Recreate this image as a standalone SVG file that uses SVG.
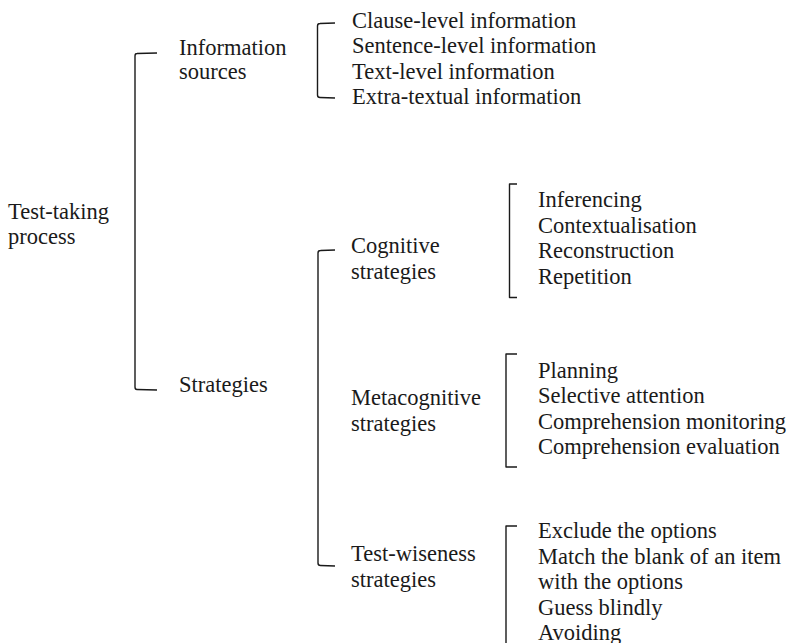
<svg xmlns="http://www.w3.org/2000/svg" width="793" height="643" viewBox="0 0 793 643">
<style>
text{font-family:"Liberation Serif","Times New Roman",serif;font-size:22.5px;fill:#1a1a1a}
.br{fill:none;stroke:#1a1a1a;stroke-width:1.4;stroke-linejoin:round}
</style>
<rect width="793" height="643" fill="#ffffff"/>
<g id="connectors">
<path class="br" d="M157,53 L137,53.5 Q135,53.5 135,56 L135,387 Q135,389.5 137,389.5 L157,390"/>
<path class="br" d="M335,23 L320,23.5 Q317.5,23.5 317.5,26 L317.5,95 Q317.5,97.5 320,97.5 L335,98"/>
<path class="br" d="M335,250 L320.5,250.5 Q318,250.5 318,253 L318,563 Q318,565.5 320.5,565.5 L335,566"/>
<path class="br" d="M517,184 L509.5,184 L509.5,297.5 L517,297.5"/>
<path class="br" d="M517,354 L506,354 L506,467 L517,467"/>
<path class="br" d="M517,526 L506,526 L506,643"/>
</g>
<g id="root"><text x="8" y="219">Test-taking</text><text x="8" y="243.5">process</text></g>
<g id="info-sources"><text x="179" y="54.5">Information</text><text x="179" y="79">sources</text></g>
<g id="info-list">
<text x="352" y="28">Clause-level information</text>
<text x="352" y="53">Sentence-level information</text>
<text x="352" y="78.5">Text-level information</text>
<text x="352" y="103.5">Extra-textual information</text>
</g>
<g id="strategies"><text x="179" y="392">Strategies</text></g>
<g id="cognitive"><text x="351" y="253">Cognitive</text><text x="351" y="278.5">strategies</text></g>
<g id="cognitive-list">
<text x="538" y="207">Inferencing</text>
<text x="538" y="232.5">Contextualisation</text>
<text x="538" y="258">Reconstruction</text>
<text x="538" y="283.5">Repetition</text>
</g>
<g id="metacognitive"><text x="351" y="405">Metacognitive</text><text x="351" y="430.5">strategies</text></g>
<g id="metacognitive-list">
<text x="538" y="377.5">Planning</text>
<text x="538" y="403">Selective attention</text>
<text x="538" y="428.5">Comprehension monitoring</text>
<text x="538" y="454">Comprehension evaluation</text>
</g>
<g id="test-wiseness"><text x="351" y="561">Test-wiseness</text><text x="351" y="586.5">strategies</text></g>
<g id="test-wiseness-list">
<text x="538" y="538">Exclude the options</text>
<text x="538" y="563.5">Match the blank of an item</text>
<text x="538" y="589">with the options</text>
<text x="538" y="614.5">Guess blindly</text>
<text x="538" y="640">Avoiding</text>
</g>
</svg>
